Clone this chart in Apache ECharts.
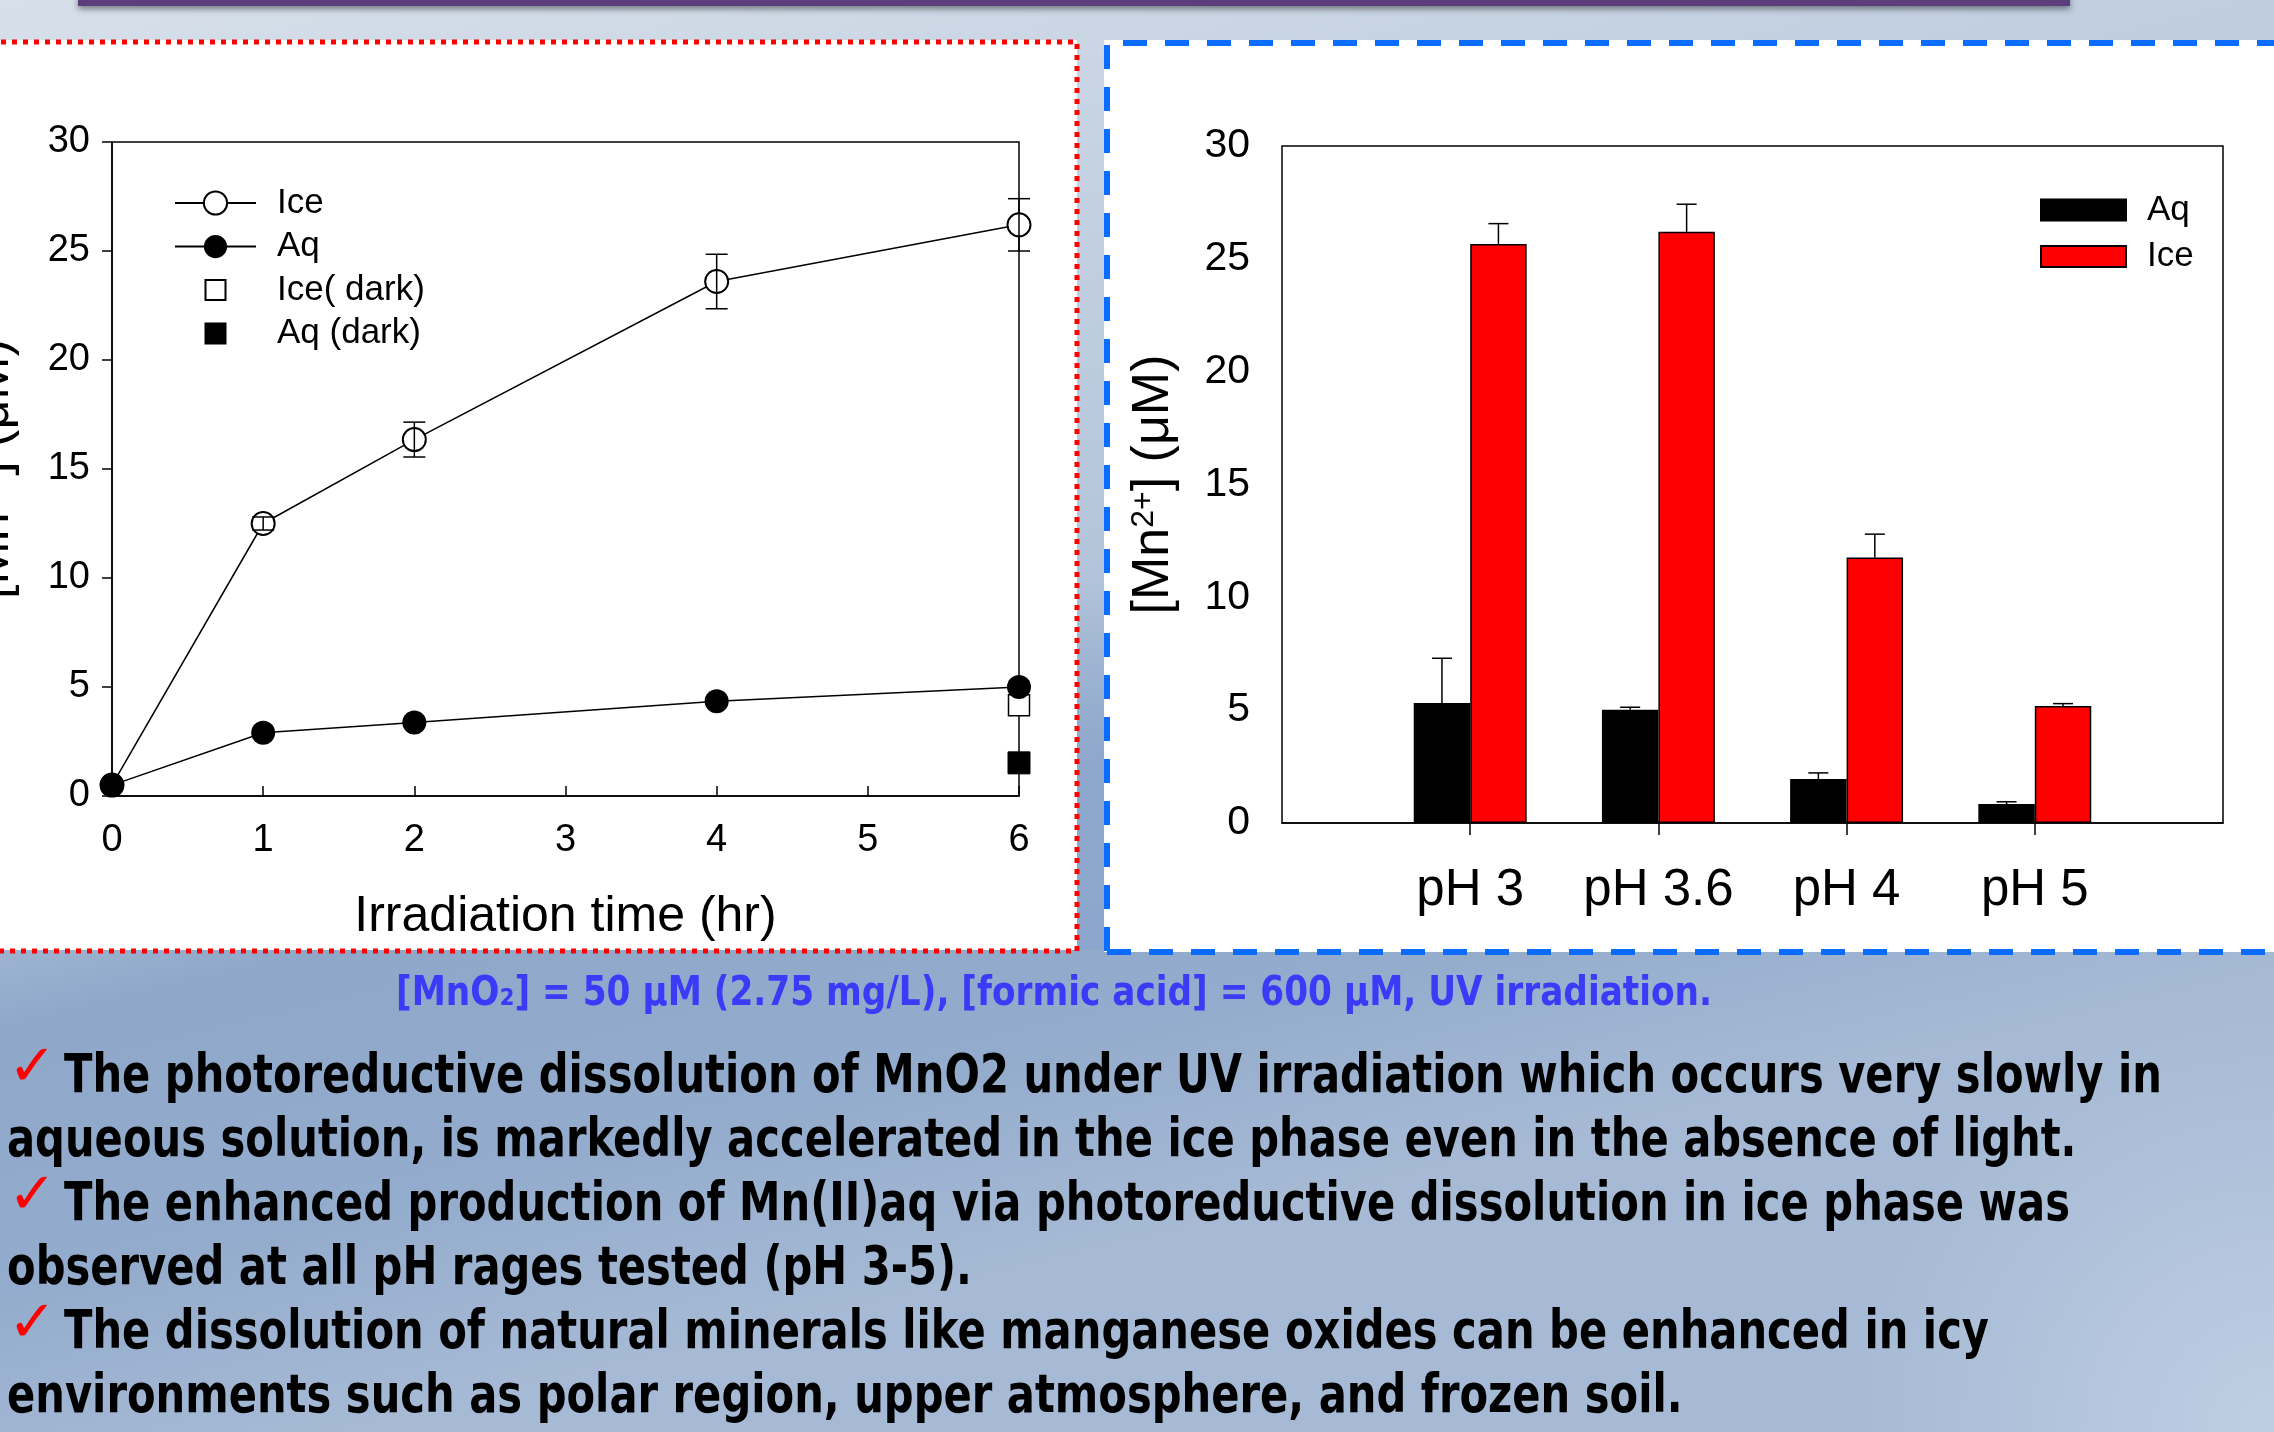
<!DOCTYPE html>
<html>
<head>
<meta charset="utf-8">
<script src="https://cdn.jsdelivr.net/npm/echarts@6/dist/echarts.min.js"></script>
<style>
html,body{margin:0;padding:0;width:2274px;height:1432px;overflow:hidden;}
#main{width:2274px;height:1432px;}
</style>
</head>
<body>
<div id="main"></div>
<script>
// ---- Left chart data (Irradiation time vs [Mn2+]) ----
const timeHr = [0, 1, 2, 4, 6];
const iceLight = [0.5, 12.5, 16.35, 23.6, 26.2];
const iceLightErr = [0, 0.3, 0.8, 1.25, 1.2];
const aqLight = [0.5, 2.9, 3.37, 4.35, 5.0];
const darkTime = [6];
const iceDark = [4.16];
const aqDark = [1.52];
const xTicksLeft = [0, 1, 2, 3, 4, 5, 6];

// ---- Right chart data (pH) ----
const phCats = ['', 'pH 3', 'pH 3.6', 'pH 4', 'pH 5', ''];
const aqBars = [5.32, 5.02, 1.95, 0.84];
const aqBarErr = [1.98, 0.11, 0.27, 0.1];
const iceBars = [25.66, 26.2, 11.77, 5.18];
const iceBarErr = [0.9, 1.22, 1.03, 0.11];

// ---- Slide text ----
const captionText = '[MnO\u2082] = 50 \u03bcM (2.75 mg/L), [formic acid] = 600 \u03bcM, UV irradiation.';
const bulletLines = [
  {t: 'The photoreductive dissolution of MnO2 under UV irradiation which occurs very slowly in', check: true},
  {t: 'aqueous solution, is markedly accelerated in the ice phase even in the absence of light.', check: false},
  {t: 'The enhanced production of Mn(II)aq via photoreductive dissolution in ice phase was', check: true},
  {t: 'observed at all pH rages tested (pH 3-5).', check: false},
  {t: 'The dissolution of natural minerals like manganese oxides can be enhanced in icy', check: true},
  {t: 'environments such as polar region, upper atmosphere, and frozen soil.', check: false}
];

const AX = 'Liberation Sans';
const chart = echarts.init(document.getElementById('main'), null, {renderer: 'canvas'});

// text measuring for slide text condensing
const mctx = document.createElement('canvas').getContext('2d');
const bulletFontSize = 44;
mctx.font = 'bold ' + bulletFontSize + 'px "DejaVu Sans"';
const bulletSX = 2098 / mctx.measureText(bulletLines[0].t).width;
const capFontSize = 32;
mctx.font = 'bold ' + capFontSize + 'px "DejaVu Sans"';
const capSX = 1316 / mctx.measureText(captionText).width;

const graphics = [];
graphics.push({
  type: 'rect', z: -20, silent: true,
  shape: {x: 0, y: 0, width: 2274, height: 1432},
  style: {fill: new echarts.graphic.LinearGradient(0, 0, 0.15, 1, [
    {offset: 0, color: '#d7e0ea'},
    {offset: 0.55, color: '#b3c4da'},
    {offset: 0.68, color: '#8fa8ca'},
    {offset: 0.85, color: '#93abcc'},
    {offset: 1, color: '#a6bad5'}
  ])}
});
graphics.push({
  type: 'rect', z: -19, silent: true,
  shape: {x: 1500, y: 950, width: 774, height: 482},
  style: {fill: new echarts.graphic.RadialGradient(1, 1, 0.9, [
    {offset: 0, color: 'rgba(215,226,240,0.5)'},
    {offset: 1, color: 'rgba(215,226,240,0)'}
  ])}
});
graphics.push({
  type: 'rect', z: -19, silent: true,
  shape: {x: 1077, y: 600, width: 30, height: 350},
  style: {fill: new echarts.graphic.LinearGradient(0, 0, 0, 1, [
    {offset: 0, color: 'rgba(140,165,205,0)'},
    {offset: 1, color: 'rgba(140,165,205,0.85)'}
  ])}
});
graphics.push({
  type: 'rect', z: -18, silent: true,
  shape: {x: 78, y: -4, width: 1992, height: 10},
  style: {fill: '#5c3e7d', shadowBlur: 6, shadowOffsetY: 3, shadowColor: 'rgba(0,0,0,0.45)'}
});
// panels
graphics.push({type: 'rect', z: -17, silent: true, shape: {x: -10, y: 40, width: 1087, height: 910}, style: {fill: '#ffffff'}});
graphics.push({type: 'rect', z: -17, silent: true, shape: {x: 1104, y: 40, width: 1200, height: 912}, style: {fill: '#ffffff'}});
graphics.push({
  type: 'polyline', z: -16, silent: true,
  shape: {points: [[-10, 42], [1077, 42], [1077, 951], [-10, 951]]},
  style: {stroke: '#ff0000', lineWidth: 5, lineDash: [5, 6], fill: null}
});
graphics.push({
  type: 'polyline', z: -16, silent: true,
  shape: {points: [[1107, 951], [1107, 43], [2290, 43]]},
  style: {stroke: '#0a6cff', lineWidth: 6, lineDash: [24, 18], fill: null}
});
graphics.push({
  type: 'polyline', z: -16, silent: true,
  shape: {points: [[1107, 952], [2290, 952]]},
  style: {stroke: '#0a6cff', lineWidth: 6, lineDash: [24, 18], fill: null}
});
// caption
graphics.push({
  type: 'text', z: 5, silent: true,
  x: 1054, y: 995, scaleX: capSX, scaleY: 1.25,
  style: {text: captionText, font: 'bold ' + capFontSize + 'px "DejaVu Sans"', fill: '#3b3bf7', align: 'center', verticalAlign: 'middle'}
});
// bullets
bulletLines.forEach(function (ln, i) {
  const base = 1094 + i * 64;
  graphics.push({
    type: 'text', z: 5, silent: true,
    x: ln.check ? 64 : 7, y: base - 16, scaleX: bulletSX, scaleY: 1.22,
    style: {text: ln.t, font: 'bold ' + bulletFontSize + 'px "DejaVu Sans"', fill: '#000', align: 'left', verticalAlign: 'middle'}
  });
  if (ln.check) {
    graphics.push({
      type: 'text', z: 5, silent: true,
      x: 8, y: base - 24,
      style: {text: '\u2713', font: '58px "DejaVu Sans"', fill: '#ff0000', align: 'left', verticalAlign: 'middle'}
    });
  }
});

function leftErr(params, api) {
  const x = api.value(0), v = api.value(1), e = api.value(2);
  if (!e) return null;
  const t = api.coord([x, v + e]);
  const b = api.coord([x, v - e]);
  const hw = 11;
  const st = {stroke: '#000', lineWidth: 1.5};
  return {type: 'group', children: [
    {type: 'line', shape: {x1: t[0], y1: t[1], x2: b[0], y2: b[1]}, style: st},
    {type: 'line', shape: {x1: t[0] - hw, y1: t[1], x2: t[0] + hw, y2: t[1]}, style: st},
    {type: 'line', shape: {x1: b[0] - hw, y1: b[1], x2: b[0] + hw, y2: b[1]}, style: st}
  ]};
}
function rightErr(params, api) {
  const c = api.value(0), v = api.value(1), e = api.value(2), side = api.value(3);
  const band = api.size([1, 0])[0];
  const off = side * band * 0.15;
  const p0 = api.coord([c, v]);
  const p1 = api.coord([c, v + e]);
  const hw = 10;
  const st = {stroke: '#000', lineWidth: 1.5};
  return {type: 'group', children: [
    {type: 'line', shape: {x1: p0[0] + off, y1: p0[1], x2: p1[0] + off, y2: p1[1]}, style: st},
    {type: 'line', shape: {x1: p1[0] + off - hw, y1: p1[1], x2: p1[0] + off + hw, y2: p1[1]}, style: st}
  ]};
}

const pad = function (arr) { return ['-'].concat(arr).concat(['-']); };
const axisLineStyle = {color: '#000', width: 1.5};

const option = {
  animation: false,
  graphic: graphics,
  grid: [
    {left: 112, top: 142, width: 907, height: 654, show: true, borderColor: '#000', borderWidth: 1.5, backgroundColor: 'transparent', containLabel: false, outerBoundsMode: 'none'},
    {left: 1282, top: 146, width: 941, height: 677, show: true, borderColor: '#000', borderWidth: 1.5, backgroundColor: 'transparent', containLabel: false, outerBoundsMode: 'none'}
  ],
  legend: [
    {
      orient: 'vertical', left: 174, top: 185.5, padding: 0, itemWidth: 81, itemHeight: 29, itemGap: 8.6,
      data: ['Ice', 'Aq'],
      textStyle: {fontFamily: AX, fontSize: 35, color: '#000', padding: [0, 0, 0, 16]},
      selectedMode: false
    },
    {
      orient: 'vertical', left: 204.5, top: 272.5, padding: 0, itemWidth: 20, itemHeight: 20, itemGap: 8.6,
      data: [{name: 'Ice( dark)', icon: 'rect'}, {name: 'Aq (dark)', icon: 'rect'}],
      textStyle: {fontFamily: AX, fontSize: 35, color: '#000', padding: [0, 0, 0, 46.5]},
      selectedMode: false
    },
    {
      orient: 'vertical', left: 2040, top: 192.5, padding: 0, itemWidth: 85, itemHeight: 21, itemGap: 11.5,
      data: [{name: 'Aq (pH)', icon: 'rect'}, {name: 'Ice (pH)', icon: 'rect'}],
      formatter: function (n) { return n.replace(' (pH)', ''); },
      textStyle: {fontFamily: AX, fontSize: 35, color: '#000', padding: [0, 0, 0, 16]},
      selectedMode: false
    }
  ],
  xAxis: [
    {
      gridIndex: 0, type: 'value', min: xTicksLeft[0], max: xTicksLeft[xTicksLeft.length - 1], interval: 1,
      axisLine: {lineStyle: axisLineStyle},
      axisTick: {inside: true, length: 10, lineStyle: axisLineStyle},
      axisLabel: {fontFamily: AX, fontSize: 38, color: '#000', margin: 26},
      splitLine: {show: false},
      name: 'Irradiation time (hr)', nameLocation: 'middle', nameGap: 96,
      nameTextStyle: {fontFamily: AX, fontSize: 50, color: '#000'}
    },
    {
      gridIndex: 1, type: 'category', data: phCats, boundaryGap: false,
      axisLine: {lineStyle: axisLineStyle},
      axisTick: {inside: false, length: 12, lineStyle: axisLineStyle, interval: function (i) { return i > 0 && i < phCats.length - 1; }},
      axisLabel: {fontFamily: AX, fontSize: 51, color: '#000', margin: 42, interval: 0},
      splitLine: {show: false}
    }
  ],
  yAxis: [
    {
      gridIndex: 0, type: 'value', min: 0, max: 30, interval: 5,
      axisLine: {lineStyle: axisLineStyle},
      axisTick: {inside: false, length: 10, lineStyle: axisLineStyle},
      axisLabel: {fontFamily: AX, fontSize: 38, color: '#000', margin: 22},
      splitLine: {show: false},
      name: '[Mn{sup|2+}] (\u03bcM)', nameLocation: 'middle', nameRotate: 90, nameGap: 92,
      nameTextStyle: {fontFamily: AX, fontSize: 52, color: '#000', rich: {sup: {fontFamily: AX, fontSize: 32, color: '#000', verticalAlign: 'top'}}}
    },
    {
      gridIndex: 1, type: 'value', min: 0, max: 30, interval: 5,
      axisLine: {lineStyle: axisLineStyle},
      axisTick: {inside: false, length: 11, lineStyle: axisLineStyle},
      axisLabel: {fontFamily: AX, fontSize: 41, color: '#000', margin: 32},
      splitLine: {show: false},
      name: '[Mn{sup|2+}] (\u03bcM)', nameLocation: 'middle', nameRotate: 90, nameGap: 102,
      nameTextStyle: {fontFamily: AX, fontSize: 52, color: '#000', rich: {sup: {fontFamily: AX, fontSize: 32, color: '#000', verticalAlign: 'top'}}}
    }
  ],
  series: [
    {
      name: 'Ice', type: 'line', xAxisIndex: 0, yAxisIndex: 0,
      data: timeHr.map(function (t, i) { return [t, iceLight[i]]; }),
      symbol: 'emptyCircle', symbolSize: 23,
      lineStyle: {color: '#000', width: 1.5},
      itemStyle: {color: '#000', borderWidth: 1.5}, z: 3
    },
    {
      name: 'Aq', type: 'line', xAxisIndex: 0, yAxisIndex: 0,
      data: timeHr.map(function (t, i) { return [t, aqLight[i]]; }),
      symbol: 'circle', symbolSize: 24,
      lineStyle: {color: '#000', width: 1.5},
      itemStyle: {color: '#000'}, z: 4
    },
    {
      name: 'Ice( dark)', type: 'scatter', xAxisIndex: 0, yAxisIndex: 0,
      data: darkTime.map(function (t, i) { return [t, iceDark[i]]; }),
      symbol: 'rect', symbolSize: 21,
      itemStyle: {color: '#fff', borderColor: '#000', borderWidth: 1.5, opacity: 1}, z: 3
    },
    {
      name: 'Aq (dark)', type: 'scatter', xAxisIndex: 0, yAxisIndex: 0,
      data: darkTime.map(function (t, i) { return [t, aqDark[i]]; }),
      symbol: 'rect', symbolSize: 22,
      itemStyle: {color: '#000', borderColor: '#000', borderWidth: 1, opacity: 1}, z: 3
    },
    {
      name: 'iceErr', type: 'custom', xAxisIndex: 0, yAxisIndex: 0, z: 5,
      renderItem: leftErr,
      data: timeHr.map(function (t, i) { return [t, iceLight[i], iceLightErr[i]]; }),
      encode: {x: 0, y: 1}
    },
    {
      name: 'Aq (pH)', type: 'bar', xAxisIndex: 1, yAxisIndex: 1,
      data: pad(aqBars), barWidth: '30%', barGap: '0%',
      itemStyle: {color: '#000', borderColor: '#000', borderWidth: 1.5}
    },
    {
      name: 'Ice (pH)', type: 'bar', xAxisIndex: 1, yAxisIndex: 1,
      data: pad(iceBars), barWidth: '30%', barGap: '0%',
      itemStyle: {color: '#ff0000', borderColor: '#000', borderWidth: 1.5}
    },
    {
      name: 'barErr', type: 'custom', xAxisIndex: 1, yAxisIndex: 1, z: 5,
      renderItem: rightErr,
      data: aqBars.map(function (v, i) { return [i + 1, v, aqBarErr[i], -1]; })
        .concat(iceBars.map(function (v, i) { return [i + 1, v, iceBarErr[i], 1]; })),
      encode: {x: 0, y: 1}
    }
  ]
};
chart.setOption(option);
</script>
</body>
</html>
